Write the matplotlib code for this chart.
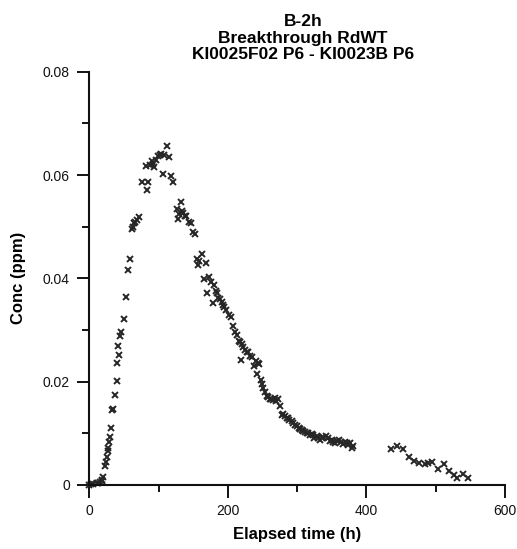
import matplotlib
matplotlib.use("Agg")
import matplotlib.pyplot as plt
from matplotlib.ticker import MultipleLocator, FuncFormatter

plt.rcParams['font.family'] = ['Liberation Sans', 'DejaVu Sans']

# elapsed time (h) and concentration (ppm)
elapsed = [
    0, 3, 6, 10.6, 13, 15.4, 17.9, 19, 20.2, 22.7, 24, 25, 26.5, 27.5, 28.9,
    29.5, 30.9, 33.5, 34, 37, 39.5, 40.4, 42, 43.3, 44.3, 45.5, 49.5, 53,
    56.3, 58.7, 61.2, 63, 64.5, 66.5, 68.4, 72.2, 75.6, 81.8, 83.7, 85.1, 88,
    90, 92, 93.8, 96, 99.6, 102, 104, 106.8, 107.5, 112.6, 115.4, 117.9,
    121.2, 126.1, 128.4, 130, 131.9, 134, 135.6, 137.5, 139.5, 144.3, 146.3,
    150, 152.5, 155, 157.3, 159, 162.2, 166, 168.4, 170.3, 173.2, 176, 178,
    180.4, 182.5, 184.7, 186.2, 188.6, 191, 193.4, 194.8, 198, 202, 204,
    207.8, 210.3, 213, 216.5, 217.5, 218.9, 220, 222.2, 225, 227, 229.4, 232,
    234.3, 237.7, 240, 241.5, 243.9, 244.9, 247.3, 249, 251.1, 254, 256,
    258.3, 261, 263, 265.5, 268, 270, 272.7, 275.2, 277.6, 280, 282, 284.8,
    287, 289, 292, 294, 297, 299.3, 302, 304, 306.5, 309, 311, 313.7, 316,
    318, 320.9, 323, 325, 328.1, 330, 333, 336, 338, 341.6, 344, 347, 349.8,
    352, 354.5, 357, 360.7, 363, 366, 369, 372, 374, 376.2, 378.6, 381,
    435, 443.5, 452.2, 461, 468, 476, 484, 489, 494, 503, 511.5, 519.5, 526,
    531, 539.5, 547,
]
conc = [
    0.0, 0.0001, 0.0001, 0.0003, 0.0004, 0.0005, 0.0007, 0.0010, 0.0016,
    0.0037, 0.0045, 0.0055, 0.0065, 0.0072, 0.0084, 0.0092, 0.0110, 0.0145,
    0.0148, 0.0174, 0.0202, 0.0237, 0.0269, 0.0252, 0.0288, 0.0296, 0.0321,
    0.0364, 0.0417, 0.0438, 0.0495, 0.0500, 0.0507, 0.0510, 0.0512, 0.0519,
    0.0587, 0.0617, 0.0571, 0.0587, 0.0620, 0.0627, 0.0622, 0.0616, 0.0630,
    0.0637, 0.0638, 0.0640, 0.0602, 0.0638, 0.0656, 0.0634, 0.0598, 0.0587,
    0.0534, 0.0514, 0.0525, 0.0547, 0.0530, 0.0527, 0.0520, 0.0521, 0.0510,
    0.0507, 0.0490, 0.0486, 0.0438, 0.0426, 0.0433, 0.0447, 0.0398, 0.0430,
    0.0371, 0.0403, 0.0392, 0.0353, 0.0388, 0.0375, 0.0371, 0.0362, 0.0360,
    0.0355, 0.0348, 0.0345, 0.0338, 0.0329, 0.0326, 0.0307, 0.0297, 0.0290,
    0.0279, 0.0277, 0.0242, 0.0272, 0.0268, 0.0262, 0.0258, 0.0258, 0.0250,
    0.0247, 0.0230, 0.0240, 0.0215, 0.0237, 0.0235, 0.0203, 0.0195, 0.0187,
    0.0180, 0.0173, 0.0170, 0.0167, 0.0166, 0.0165, 0.0168, 0.0162, 0.0166,
    0.0152, 0.0136, 0.0138, 0.0133, 0.0129, 0.0130, 0.0126, 0.0124, 0.0120,
    0.0117, 0.0114, 0.0111, 0.0108, 0.0106, 0.0104, 0.0103, 0.0101, 0.0100,
    0.0097, 0.0099, 0.0096, 0.0091, 0.0094, 0.0090, 0.0087, 0.0090, 0.0092,
    0.0095, 0.0091, 0.0086, 0.0088, 0.0084, 0.0081, 0.0085, 0.0088, 0.0083,
    0.0080, 0.0084, 0.0082, 0.0078, 0.0081, 0.0071, 0.0076,
    0.0070, 0.0075, 0.0069, 0.0055, 0.0047, 0.0043, 0.0040, 0.0042, 0.0045,
    0.0030, 0.0041, 0.0027, 0.0019, 0.0014, 0.0021, 0.0014,
]

title_lines = ["B-2h", "Breakthrough RdWT", "KI0025F02 P6 - KI0023B P6"]

fig = plt.figure(figsize=(5.17, 5.49), dpi=100)
ax = fig.add_axes([0.1727, 0.1166, 0.804, 0.7528])

ax.plot(elapsed, conc, linestyle="none", marker="x", ms=4.5, mew=1.4,
        color="#262626", clip_on=False)

ax.set_xlim(0, 600)
ax.set_ylim(0, 0.08)
ax.xaxis.set_major_locator(MultipleLocator(200))
ax.xaxis.set_minor_locator(MultipleLocator(100))
ax.yaxis.set_major_locator(MultipleLocator(0.02))
ax.yaxis.set_minor_locator(MultipleLocator(0.01))
ax.yaxis.set_major_formatter(FuncFormatter(lambda v, p: "0" if v == 0 else f"{v:.2f}"))
ax.xaxis.set_major_formatter(FuncFormatter(lambda v, p: f"{v:.0f}"))

for s in ["top", "right"]:
    ax.spines[s].set_visible(False)
for s in ["left", "bottom"]:
    ax.spines[s].set_linewidth(1.5)
    ax.spines[s].set_color("#111111")

ax.tick_params(which="major", length=9, width=1.4, labelsize=10, colors="#111111")
ax.tick_params(which="minor", length=5, width=1.4, colors="#111111")
ax.tick_params(axis="x", which="major", pad=5)
ax.tick_params(axis="y", which="major", pad=5)

ax.set_xlabel("Elapsed time (h)", fontsize=12, fontweight="bold", labelpad=6)
ax.set_ylabel("Conc (ppm)", fontsize=12, fontweight="bold", labelpad=12)

# va="baseline" anchors the last line, at about 59 px from the top
fig.text(303 / 517, 1 - 59 / 549, "\n".join(title_lines), ha="center",
         va="baseline", ma="center", fontsize=12.5, fontweight="bold",
         linespacing=1.12)

fig.savefig("out.png", dpi=100)
